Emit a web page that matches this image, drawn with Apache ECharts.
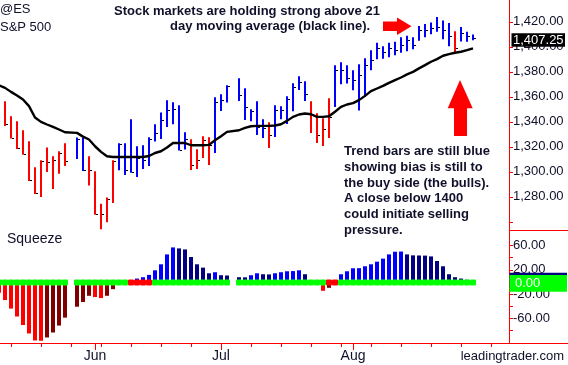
<!DOCTYPE html>
<html><head><meta charset="utf-8">
<script src="https://cdn.jsdelivr.net/npm/echarts@6/dist/echarts.min.js"></script>
<style>html,body{margin:0;padding:0;background:#fff}#c{width:568px;height:365px}</style>
</head><body><div id="c"></div>
<script>
// Trading days (index = x position). May 28 and Jul 4 are market holidays (empty slots).
const dates = ['2012-05-10','2012-05-11','2012-05-14','2012-05-15','2012-05-16','2012-05-17','2012-05-18','2012-05-21','2012-05-22','2012-05-23','2012-05-24','2012-05-25','2012-05-28','2012-05-29','2012-05-30','2012-05-31',
'2012-06-01','2012-06-04','2012-06-05','2012-06-06','2012-06-07','2012-06-08','2012-06-11','2012-06-12','2012-06-13','2012-06-14','2012-06-15','2012-06-18','2012-06-19','2012-06-20','2012-06-21','2012-06-22','2012-06-25','2012-06-26','2012-06-27','2012-06-28','2012-06-29',
'2012-07-02','2012-07-03','2012-07-04','2012-07-05','2012-07-06','2012-07-09','2012-07-10','2012-07-11','2012-07-12','2012-07-13','2012-07-16','2012-07-17','2012-07-18','2012-07-19','2012-07-20','2012-07-23','2012-07-24','2012-07-25','2012-07-26','2012-07-27','2012-07-30','2012-07-31',
'2012-08-01','2012-08-02','2012-08-03','2012-08-06','2012-08-07','2012-08-08','2012-08-09','2012-08-10','2012-08-13','2012-08-14','2012-08-15','2012-08-16','2012-08-17','2012-08-20','2012-08-21','2012-08-22','2012-08-23','2012-08-24','2012-08-27','2012-08-28','2012-08-29'];

const highs = [null,1356.5,1344.4,1340.4,1333.2,1324.4,1303.6,1309.2,1319.4,1312.4,1316.4,1322.8,null,
1327.4,1327.4,1312.4,1300.4,1274.5,1279.5,1309.2,1322.8,1322.8,1342,1320.4,1321.2,1327.6,1338,1347.4,1357.3,1355.7,1353.3,1331.6,1326,1318,1328.4,1327.6,1359.7,1362.1,1369.3,null,
1374.9,1366.9,1350,1356.5,1342,1339.6,1353.3,1352.5,1360.5,1370.9,1376.5,1372.5,1356.5,1346.8,1342.8,1358.9,1385.3,1387.7,1385.3,1381.3,1386.1,1390.9,1397.3,1403.3,1400.5,1403.3,1404,1407.7,1408.9,1407.7,1416.6,1418.2,1419.4,1423.8,1421,1419,1412.5,1415.8,1412,1409.9];
const lows = [null,1336.7,1326.6,1318.2,1313.7,1292.6,1282.2,1279.8,1299.8,1286.2,1298.5,1304.6,null,
1310.2,1300.6,1289.1,1265.7,1254.1,1259.7,1275,1301.2,1297.4,1299.3,1295.8,1302.2,1304.6,1324.2,1326.2,1335.9,1338,1317,1317.8,1301.4,1302.2,1311,1305.4,1315,1348.7,1355.4,null,
1356.7,1341.5,1340.4,1329.5,1327,1319,1327.9,1342,1338.3,1348.4,1365.5,1356.7,1331.1,1323,1320.6,1327,1351.9,1370.1,1370.6,1365.3,1349,1359.9,1381.3,1390.1,1390.5,1391.7,1393.3,1395.3,1396.5,1398.1,1404.9,1407.7,1410.1,1412.1,1406.1,1400.5,1395.3,1404.3,1404,1405.3];
const closes = [null,1338,1327,1319,1314.5,1293.7,1283,1308.6,1307.8,1309.2,1315,1308.4,null,
1326.6,1301.7,1301.2,1266.5,1265.9,1278.5,1308.6,1322,1301.2,1299.8,1311.3,1309.2,1326,1330.8,1341.2,1349.2,1350.6,1317.8,1326.6,1305.7,1309.2,1325.2,1321.8,1355.9,1357.3,1368.5,null,
1361.3,1351.9,1348.7,1335.9,1335.4,1329.2,1349.2,1349.2,1358.6,1367.9,1371.9,1362.6,1345.2,1329.2,1334.6,1343.9,1381.3,1381.3,1374.9,1373.3,1377.3,1385.3,1389.3,1398.9,1395.7,1398.9,1397.3,1401.3,1405.3,1401.3,1413.3,1413.3,1415,1415.8,1413.3,1408.5,1398.9,1411,1408.5,1407.25];
// 1 = blue trend bar, 0 = red trend bar
const trendUp = [0,0,0,0,0,0,0,0,0,0,0,0,0,
1,1,0,0,0,0,0,1,1,1,1,1,1,1,1,1,1,1,1,0,0,0,0,1,1,1,0,
1,1,1,1,1,0,1,1,1,1,1,1,0,0,0,0,1,1,1,1,1,1,1,1,1,1,1,1,1,1,1,1,1,1,1,1,0,1,1,1];
// 21-day moving average (black line)
const ma21 = [1369.2,1367.1,1363.9,1361,1357.8,1352.5,1343.4,1339.9,1337.8,1335.9,1333.8,1331.6,null,
1331.1,1328.1,1325.8,1320.4,1315.9,1312.4,1311.8,1311.8,1311.8,1311.8,1311.8,1311.8,1312.6,1315,1316.4,1319.4,1323,1323,1323,1321.2,1321.2,1321.2,1321.5,1325.2,1328.4,1331.9,null,
1333.2,1335.1,1336.4,1336.7,1336.7,1336.7,1337,1338,1340.7,1343.9,1345.8,1346.6,1346,1343.9,1343.9,1344.4,1348,1351.9,1353.8,1354.9,1357.3,1360.7,1364.5,1366.6,1368.7,1371.1,1373.3,1375.4,1377.9,1379.9,1382.7,1385.3,1388,1390.1,1392.8,1394.1,1395.2,1396,1397.3,1398.7];
// Squeeze momentum histogram
const squeezeHist = [-18,-30,-44,-57,-71,-85,-96.5,-97,-91.6,-83.4,-72,-58.9,null,
-40.9,-33.2,-22.9,-25,-26.7,-22.9,-12,-4,-1,2,5.5,7.7,11.5,19.1,29,45.3,56.8,55.2,53.5,41,29,23.5,14.2,15.9,11,10.5,null,
7.7,7.5,11,14.2,12.6,12.3,14.2,15.9,17.5,17.8,19.1,12.6,2.5,0.5,-14.7,-9.8,-2,12.6,17.5,22.4,22.6,25.7,29,33.3,38.3,45.3,49.7,50,45.3,43.7,43.5,43.3,42,34.4,25.7,12.6,7.7,5.5,3.5,3.0];
// 1 = squeeze on (red dot), 0 = off (green dot)
const squeezeOn = [0,0,0,0,0,0,0,0,0,0,0,0,null,
0,0,0,0,0,0,0,0,0,1,1,1,1,0,0,0,0,0,0,0,0,0,0,0,0,0,null,
0,0,0,0,0,0,0,0,0,0,0,0,0,0,0,1,1,0,0,0,0,0,0,0,0,0,0,0,0,0,0,0,0,0,0,0,0,0,0,0];

const weekTicks = [2,7,12,17,22,27,32,42,47,52,57,62,67,72,77,82];
const monthTicks = [16,37,59];
const monthLabels = ['Jun','Jul','Aug'];
const priceTicks = [1260,1280,1300,1320,1340,1360,1380,1400,1420];
const priceLabels = [1280,1300,1320,1340,1360,1380,1400,1420];
const sqzTicks = [-80,-60,-40,-20,0,20,40,60];
const sqzLabels = [60,20,-20,-60];

const FONT = "'Liberation Sans', Arial, sans-serif";
const TXT = '#10102a';
const RED = '#ff0000';
const XMIN = 1/6, XMAX = 85;

function fmt2(v){
  const s = Math.abs(v).toFixed(2).split('.');
  return (v<0?'-':'') + s[0].replace(/\B(?=(\d{3})+(?!\d))/g, ',') + '.' + s[1];
}

const priceData = [], maData = [], histData = [], dotData = [];
let prev = null;
for (let i = 0; i < dates.length; i++) {
  if (highs[i] != null) priceData.push([i, highs[i], lows[i], closes[i], trendUp[i]]);
  if (ma21[i] != null) maData.push([i, ma21[i]]);
  const h = squeezeHist[i];
  if (h != null) {
    let c;
    if (h >= 0) c = (prev == null || h >= prev) ? 0 : 1;
    else c = (prev == null || h <= prev) ? 2 : 3;
    histData.push([i, h, c]);
    prev = h;
  }
  if (squeezeOn[i] != null) dotData.push([i, 0, squeezeOn[i]]);
}
const histColors = ['#0000ff', '#000080', '#ff0000', '#800000'];

const chart = echarts.init(document.getElementById('c'), null, {renderer: 'canvas', width: 568, height: 365});

const axisTextStyle = {color: TXT, fontFamily: FONT, fontSize: 13};

const option = {
  animation: false,
  backgroundColor: '#ffffff',
  grid: [
    {left: 0, right: 59, top: 0, height: 230},
    {left: 0, right: 59, top: 230, height: 113}
  ],
  xAxis: [
    {gridIndex: 0, type: 'value', min: XMIN, max: XMAX, show: false},
    {gridIndex: 1, type: 'value', position: 'bottom', min: XMIN, max: XMAX,
      axisLine: {show: true, onZero: false, lineStyle: {color: RED, width: 1}},
      axisTick: {show: true, customValues: weekTicks, length: 4, lineStyle: {color: RED}},
      axisLabel: {show: false}, splitLine: {show: false}},
    {gridIndex: 1, type: 'value', position: 'bottom', offset: 0, min: XMIN, max: XMAX,
      axisLine: {show: false, onZero: false},
      axisTick: {show: true, customValues: monthTicks, length: 7, lineStyle: {color: RED}},
      axisLabel: {show: true, customValues: monthTicks, margin: 6, fontSize: 14, fontFamily: FONT, color: TXT,
        formatter: v => monthLabels[monthTicks.indexOf(v)] || ''},
      splitLine: {show: false}}
  ],
  yAxis: [
    {gridIndex: 0, type: 'value', position: 'right', min: 1253.4, max: 1437.4,
      axisLine: {show: true, lineStyle: {color: RED, width: 1}},
      axisTick: {show: true, customValues: priceTicks, length: 4, lineStyle: {color: RED}},
      axisLabel: Object.assign({show: true, customValues: priceLabels, margin: 4, formatter: v => fmt2(v)}, axisTextStyle),
      splitLine: {show: false}},
    {gridIndex: 1, type: 'value', position: 'right', min: -100.7, max: 85.5,
      axisLine: {show: true, onZero: false, lineStyle: {color: RED, width: 1}},
      axisTick: {show: true, customValues: sqzTicks, length: 4, lineStyle: {color: RED}},
      axisLabel: Object.assign({show: true, customValues: sqzLabels, margin: 4, formatter: v => fmt2(v)}, axisTextStyle),
      splitLine: {show: false}}
  ],
  series: [
    {
      type: 'custom', name: 'bars', xAxisIndex: 0, yAxisIndex: 0, z: 2,
      data: priceData,
      encode: {x: 0, y: [1, 2]},
      renderItem: function (params, api) {
        const x = api.value(0);
        const hi = api.coord([x, api.value(1)]);
        const lo = api.coord([x, api.value(2)]);
        const cl = api.coord([x, api.value(3)]);
        const color = api.value(4) ? '#0000ff' : '#ff0000';
        const cy = Math.round(cl[1]) + 0.5;
        return {type: 'group', children: [
          {type: 'line', shape: {x1: hi[0], y1: hi[1], x2: lo[0], y2: lo[1]}, style: {stroke: color, lineWidth: 2}},
          {type: 'line', shape: {x1: cl[0] + 1, y1: cy, x2: cl[0] + 3, y2: cy}, style: {stroke: '#000', lineWidth: 1}}
        ]};
      }
    },
    {
      type: 'line', name: 'MA21', xAxisIndex: 0, yAxisIndex: 0, z: 3,
      data: maData, showSymbol: false, symbol: 'none', clip: true,
      lineStyle: {color: '#000000', width: 2.4}
    },
    {
      type: 'custom', name: 'hist', xAxisIndex: 1, yAxisIndex: 1, z: 2,
      data: histData,
      encode: {x: 0, y: 1},
      renderItem: function (params, api) {
        const x = api.value(0);
        const p0 = api.coord([x, 0]);
        const p1 = api.coord([x, api.value(1)]);
        return {type: 'rect', shape: {x: Math.round(p0[0]) - 2, y: Math.min(p0[1], p1[1]), width: 4, height: Math.abs(p1[1] - p0[1])},
          style: {fill: histColors[api.value(2)]}};
      }
    },
    {
      type: 'custom', name: 'dots', xAxisIndex: 1, yAxisIndex: 1, z: 4,
      data: dotData,
      encode: {x: 0, y: 1},
      renderItem: function (params, api) {
        const x = api.value(0);
        const p = api.coord([x, 0]);
        return {type: 'rect', shape: {x: Math.round(p[0]) - 3, y: Math.round(p[1]) - 2.6, width: 6, height: 6, r: 1.2},
          style: {fill: api.value(2) ? '#ff0000' : '#00ff00'}};
      }
    }
  ]
};

chart.setOption(option);

const lastClose = closes[closes.length - 1];
const lastHist = squeezeHist[squeezeHist.length - 1];
const yClose = chart.convertToPixel({yAxisIndex: 0}, lastClose);
const yZero = chart.convertToPixel({yAxisIndex: 1}, 0);
const yHist = chart.convertToPixel({yAxisIndex: 1}, lastHist);
const axisX = chart.convertToPixel({xAxisIndex: 0}, XMAX);

const txt = (text, x, y, size, weight, extra, z) => ({
  type: 'text', x: x, y: y, z: z || 50,
  style: Object.assign({text: text, fontFamily: FONT, fontSize: size, fontWeight: weight, fill: TXT, align: 'left', verticalAlign: 'middle'}, extra || {})
});

const graphics = [
  txt('@ES', 0, 9.5, 13, 'normal'),
  txt('S&P 500', 0, 27.5, 13, 'normal'),
  txt('Squeeze', 7, 239, 14, 'normal'),
  txt('Stock markets are holding strong above 21', 114, 11.7, 13, 'bold'),
  txt('day moving average (black line).', 170, 26.7, 13, 'bold'),
  txt('Trend bars are still blue\nshowing bias is still to\nthe buy side (the bulls).\nA close below 1400\ncould initiate selling\npressure.', 344, 143.6, 13, 'bold', {verticalAlign: 'top', lineHeight: 15.8}),
  txt('leadingtrader.com', 564, 356.5, 13, 'normal', {align: 'right'}),
  {type: 'polygon', z: 50, shape: {points: [[383,21.5],[397,21.5],[397,17.5],[411.5,26.3],[397,35],[397,31],[383,31]]}, style: {fill: RED}},
  {type: 'polygon', z: 50, shape: {points: [[460,80],[472.7,108.3],[467,108.3],[467,136],[454,136],[454,108.3],[447.7,108.3]]}, style: {fill: RED}},
  {type: 'line', z: 50, shape: {x1: axisX, y1: 230.5, x2: 568, y2: 230.5}, style: {stroke: RED, lineWidth: 1}},
  {type: 'line', z: 50, shape: {x1: axisX, y1: 343.5, x2: 568, y2: 343.5}, style: {stroke: RED, lineWidth: 1}},
  // last close value box
  {type: 'rect', z: 60, shape: {x: axisX + 2.5, y: yClose - 4.5, width: 53.5, height: 13.5}, style: {fill: '#000000'}},
  txt(fmt2(lastClose), axisX + 4, yClose + 2.3, 13, 'normal', {fill: '#ffffff'}, 65),
  // squeeze value boxes
  {type: 'rect', z: 60, shape: {x: axisX + 0.5, y: yHist - 7.4, width: 57.5, height: 15}, style: {fill: '#000080'}},
  {type: 'rect', z: 61, shape: {x: axisX + 0.5, y: yZero - 6.9, width: 57.5, height: 16.7}, style: {fill: '#00ff00'}},
  txt(fmt2(0), axisX + 6, yZero + 1.6, 13, 'normal', {fill: '#ffffff'}, 65)
];
chart.setOption({graphic: graphics});
</script>
</body></html>
